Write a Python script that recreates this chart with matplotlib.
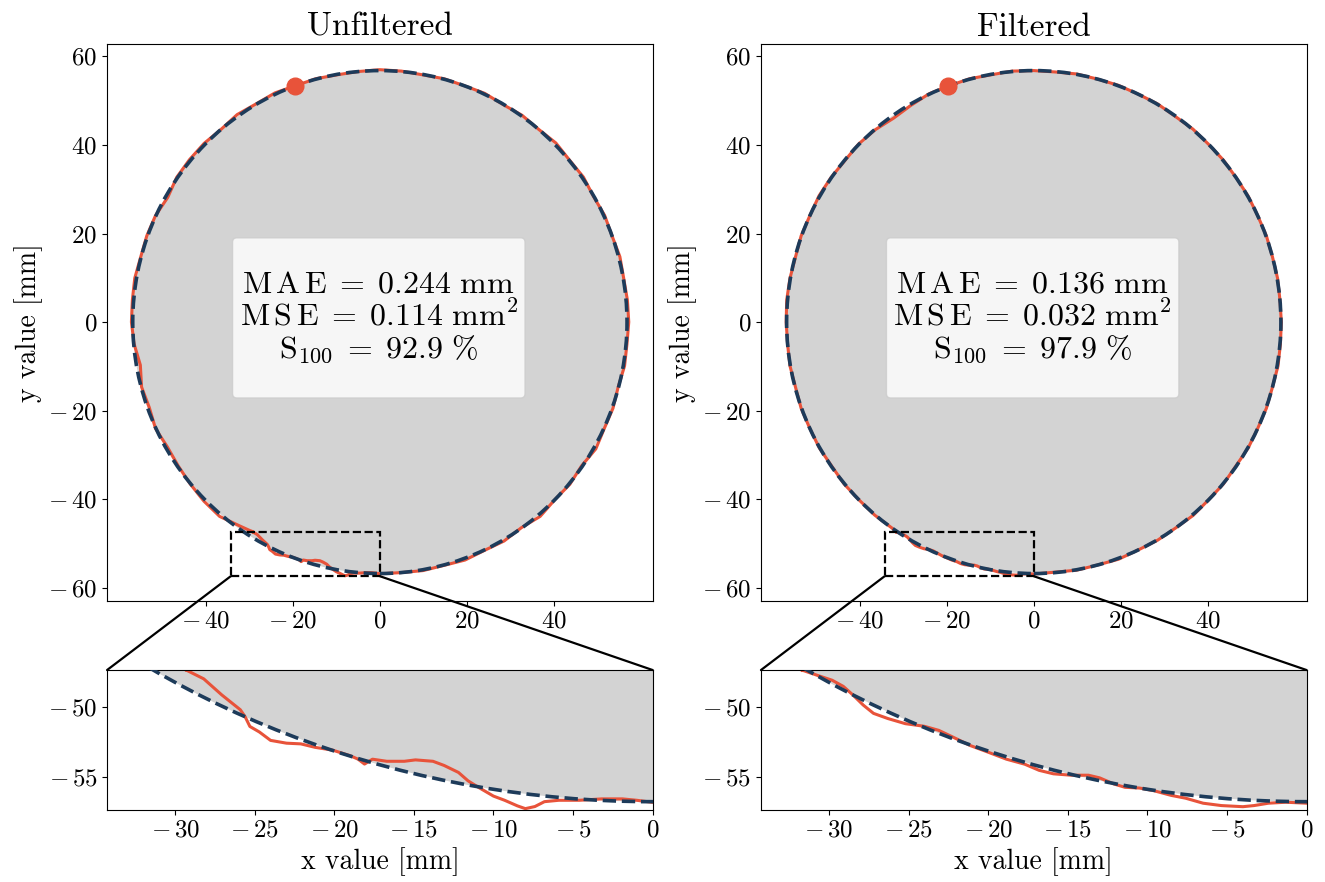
import numpy as np
import matplotlib.pyplot as plt
from matplotlib.patches import Circle, Rectangle, FancyBboxPatch, ConnectionPatch
from matplotlib.ticker import FuncFormatter

plt.rcParams['font.family'] = 'serif'
plt.rcParams['font.serif'] = ['cmr10']
plt.rcParams['mathtext.fontset'] = 'cm'
plt.rcParams['axes.formatter.use_mathtext'] = True

# ---- data ----
radius = 56.8
start_x, start_y = -19.6, 53.4

titles = ['Unfiltered', 'Filtered']
mae = [0.244, 0.136]
mse = [0.114, 0.032]
s100 = [92.9, 97.9]

# contour radius read at angles (deg) outside the zoomed window
angles = list(range(-85, 240, 5))
unf_r = [56.8, 57.0, 56.9, 57.2, 56.9, 57.1, 56.7, 57.3, 56.8, 57.0, 56.6, 57.3, 56.9,
         57.0, 56.7, 57.1, 57.0, 57.2, 57.1, 56.9, 57.1, 56.8, 57.0, 56.7, 57.1, 56.9,
         57.2, 56.8, 57.0, 56.7, 57.0, 56.8, 56.9, 56.7, 56.9, 57.0, 56.8, 56.7, 56.9,
         56.8, 57.1, 56.9, 57.2, 56.8, 57.1, 57.1, 57.0, 56.3, 56.9, 57.0, 56.9, 57.2,
         57.1, 57.1, 56.7, 55.9, 56.7, 56.4, 56.9, 56.4, 56.6, 56.9, 57.2, 57.3, 56.2]
filt_r = [56.7, 56.9, 56.8, 57.0, 56.8, 56.9, 56.8, 57.0, 56.8, 56.9, 56.7, 56.9, 56.8,
          56.9, 56.8, 57.0, 56.9, 56.9, 56.8, 56.9, 56.8, 56.9, 56.8, 56.9, 56.8, 56.9,
          56.8, 56.9, 56.7, 56.9, 56.8, 56.9, 56.8, 56.9, 56.7, 56.8, 56.9, 56.7, 56.9,
          56.8, 56.9, 56.5, 56.2, 56.7, 56.9, 56.7, 56.9, 57.0, 56.8, 56.9, 56.7, 56.9,
          57.0, 56.9, 56.8, 56.9, 56.7, 56.9, 56.8, 56.9, 56.7, 56.9, 56.8, 56.9, 56.8]

# contour points inside the zoomed window (x, y in mm)
unf_zx = [-29.3, -28.2, -27.07, -25.9, -25.6, -25.3, -24.7, -24.0, -23.0, -22.1, -21.2,
          -20.1, -19.0, -18.5, -18.1, -17.6, -16.7, -15.6, -14.9, -13.8, -13.1, -12.2,
          -11.6, -10.9, -10.0, -9.3, -8.5, -8.0, -7.4, -6.8, -5.9, -4.6, -3.2, -1.9, -1.0, 0.0]
unf_zy = [-47.35, -47.98, -49.13, -50.2, -50.7, -51.4, -51.8, -52.4, -52.6, -52.65, -52.9,
          -53.1, -53.5, -53.75, -54.1, -53.75, -53.9, -53.9, -53.8, -53.9, -54.2, -54.7,
          -55.3, -55.8, -56.4, -56.7, -57.1, -57.3, -57.15, -56.8, -56.7, -56.7, -56.6,
          -56.6, -56.7, -56.85]
filt_zx = [-31.7, -30.7, -29.8, -29.1, -28.5, -27.85, -27.2, -26.3, -25.2, -24.0, -23.1,
           -22.2, -21.1, -19.97, -18.85, -17.7, -16.8, -15.9, -14.8, -13.7, -13.0, -12.1,
           -11.4, -10.5, -9.6, -8.5, -7.6, -6.5, -5.35, -4.0, -3.3, -2.4, -1.3, 0.0]
filt_zy = [-47.35, -47.74, -48.08, -48.52, -49.13, -49.86, -50.46, -50.83, -51.2, -51.39,
           -51.68, -52.17, -52.78, -53.26, -53.75, -54.11, -54.55, -54.8, -54.9, -54.9,
           -55.09, -55.53, -55.77, -55.82, -56.01, -56.35, -56.55, -56.91, -57.08, -57.16,
           -57.08, -56.91, -56.84, -56.91]

zoom_xlim = (-34.27, 0.0)
zoom_ylim = (-57.4, -47.35)

orange = '#e8533a'
navy = '#1d3b5a'


def build_contour(rad, zx, zy):
    a = np.deg2rad(angles)
    px = np.asarray(rad) * np.cos(a)
    py = np.asarray(rad) * np.sin(a)
    xs = np.concatenate([zx, px, zx[:1]])
    ys = np.concatenate([zy, py, zy[:1]])
    return xs, ys


def minus_fmt(v, pos):
    if v < 0:
        return r'$-\,%g$' % abs(v)
    return r'$%g$' % v


def draw_shape(ax, xs, ys):
    ax.add_patch(Circle((0, 0), radius, facecolor='lightgray', edgecolor='none', zorder=1))
    ax.plot(xs, ys, color=orange, lw=2.2, zorder=2)
    ax.add_patch(Circle((0, 0), radius, facecolor='none', edgecolor=navy, lw=2.6,
                        ls='--', zorder=3))


contours = [build_contour(unf_r, unf_zx, unf_zy), build_contour(filt_r, filt_zx, filt_zy)]

fig = plt.figure(figsize=(13.25, 8.82), dpi=100)
lefts = [0.0808, 0.5743]
width = 0.4118

for i in range(2):
    xs, ys = contours[i]
    ax = fig.add_axes([lefts[i], 0.3186, width, 0.6315])
    draw_shape(ax, xs, ys)
    ax.plot(start_x, start_y, 'o', color=orange, ms=12, zorder=4)
    ax.set_xlim(-62.7, 62.7)
    ax.set_ylim(-63.0, 62.8)
    ax.set_xticks([-40, -20, 0, 20, 40])
    ax.set_yticks([-60, -40, -20, 0, 20, 40, 60])
    ax.xaxis.set_major_formatter(FuncFormatter(minus_fmt))
    ax.yaxis.set_major_formatter(FuncFormatter(minus_fmt))
    ax.tick_params(labelsize=18)
    ax.set_ylabel('y value [mm]', fontsize=20)
    ax.set_title(titles[i], fontsize=24)

    box = FancyBboxPatch((0.230, 0.3645), 0.536, 0.2875, transform=ax.transAxes,
                         boxstyle='round,pad=0,rounding_size=0.008', facecolor='white',
                         edgecolor='0.8', alpha=0.8, zorder=5)
    ax.add_patch(box)
    txt = (r'$\mathrm{M\,A\,E}\;=\;0.%03d\ \mathrm{mm}$' % round(mae[i] * 1000) + '\n'
           + r'$\mathrm{M\,S\,E}\;=\;0.%03d\ \mathrm{mm}^2$' % round(mse[i] * 1000) + '\n'
           + r'$\mathrm{S}_{100}\;=\;%.1f\ \%%$' % s100[i])
    ax.text(0.498, 0.508, txt, transform=ax.transAxes, ha='center', va='center',
            fontsize=23, linespacing=1.05, zorder=6)

    ax.add_patch(Rectangle((zoom_xlim[0], zoom_ylim[0]), zoom_xlim[1] - zoom_xlim[0],
                           zoom_ylim[1] - zoom_ylim[0], fill=False, ls='--', lw=1.6,
                           edgecolor='black', zorder=7))

    axz = fig.add_axes([lefts[i], 0.0816, width, 0.1587])
    draw_shape(axz, xs, ys)
    axz.set_xlim(*zoom_xlim)
    axz.set_ylim(*zoom_ylim)
    axz.set_xticks([-30, -25, -20, -15, -10, -5, 0])
    axz.set_yticks([-55, -50])
    axz.xaxis.set_major_formatter(FuncFormatter(minus_fmt))
    axz.yaxis.set_major_formatter(FuncFormatter(minus_fmt))
    axz.tick_params(labelsize=18)
    axz.set_xlabel('x value [mm]', fontsize=20)

    for cx in zoom_xlim:
        frac = 0 if cx == zoom_xlim[0] else 1
        con = ConnectionPatch(xyA=(cx, zoom_ylim[0]), coordsA=ax.transData,
                              xyB=(frac, 1), coordsB=axz.transAxes,
                              color='black', lw=1.6)
        fig.add_artist(con)

fig.savefig('out.png', dpi=100)
